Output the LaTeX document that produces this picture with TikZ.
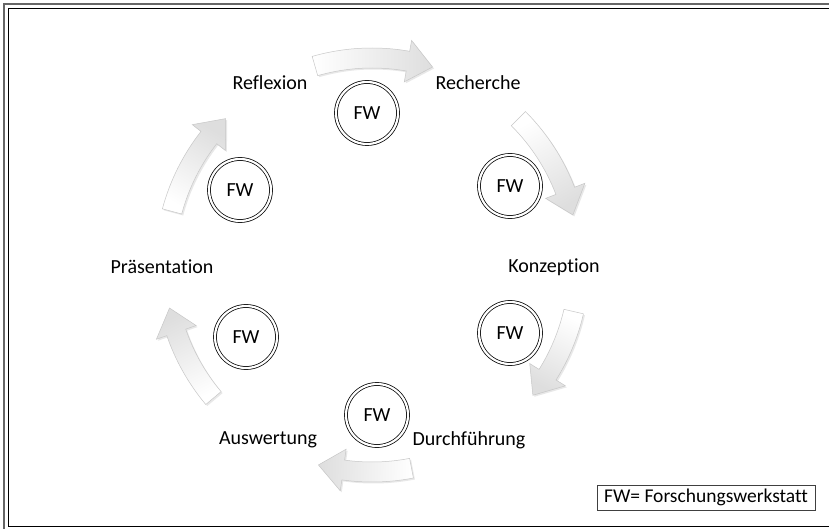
\documentclass[tikz,border=0pt]{standalone}
\usepackage{fontspec}
\setmainfont[Ligatures=NoCommon]{Carlito}
\usetikzlibrary{shadows}
\tikzset{
  lbl/.style={font=\fontsize{20}{24}\selectfont, inner sep=0pt},
  fwc/.style={circle, draw, double, double distance=2.2pt, line width=0.75pt,
    minimum size=62pt, inner sep=0pt, font=\fontsize{20}{24}\selectfont},
  cyc/.style={draw=black!22, line width=0.5pt, left color=white, right color=black!13,
    drop shadow={opacity=0.18, shadow xshift=1.5pt, shadow yshift=-1.5pt}},
  legend/.style={draw=black!75, line width=0.8pt, minimum width=218pt, minimum height=25pt,
    inner sep=0pt, font=\fontsize{19.5}{23}\selectfont},
}
\newcommand\cycarrow[3]{%
  \pgfmathsetmacro\cysg{(#1>#2) ? 1 : -1}%
  \pgfmathsetmacro\cyab{#2+\cysg*7}%
  \path[cyc, shading angle=#3] (#1:217) arc[start angle=#1, end angle=\cyab, radius=217]
    -- (\cyab:228) -- (#2:207) -- (\cyab:186) -- (\cyab:197)
    arc[start angle=\cyab, end angle=#1, radius=197] -- cycle;
}
\begin{document}
\begin{tikzpicture}[x=1pt,y=1pt]
\useasboundingbox (0,0) rectangle (829,528);
\clip (0,0) rectangle (829,528);
\fill[white] (0,0) rectangle (829,528);
% frame
\draw[black!60, line width=1.5pt] (4,-2) rectangle (839,524);
\draw[black, line width=0.8pt] (8,2) rectangle (835,520);
% arrows
\begin{scope}[shift={(372,263)}]
  \cycarrow{106}{73}{90}
  \cycarrow{45}{14}{30}
  \cycarrow{-13}{-39}{-26}
  \cycarrow{-79}{-105}{-92}
  \cycarrow{-140}{-168}{-154}
  \cycarrow{165}{135}{150}
\end{scope}
% labels
\node[lbl] (reflexion) at (270,445) {Reflexion};
\node[lbl] (recherche) at (478,445) {Recherche};
\node[lbl] (konzeption) at (554,261) {Konzeption};
\node[lbl] (durchf) at (469,88) {Durchführung};
\node[lbl] (auswertung) at (268,88) {Auswertung};
\node[lbl] (praes) at (162,261) {Präsentation};
% FW circles
\node[fwc] (fw1) at (367,415) {FW};
\node[fwc] (fw2) at (510,342) {FW};
\node[fwc] (fw3) at (510,195) {FW};
\node[fwc] (fw4) at (377,113) {FW};
\node[fwc] (fw5) at (246,191) {FW};
\node[fwc] (fw6) at (240,338) {FW};
% legend
\node[legend] (leg) at (706,30.5) {FW= Forschungswerkstatt};
\end{tikzpicture}
\end{document}
